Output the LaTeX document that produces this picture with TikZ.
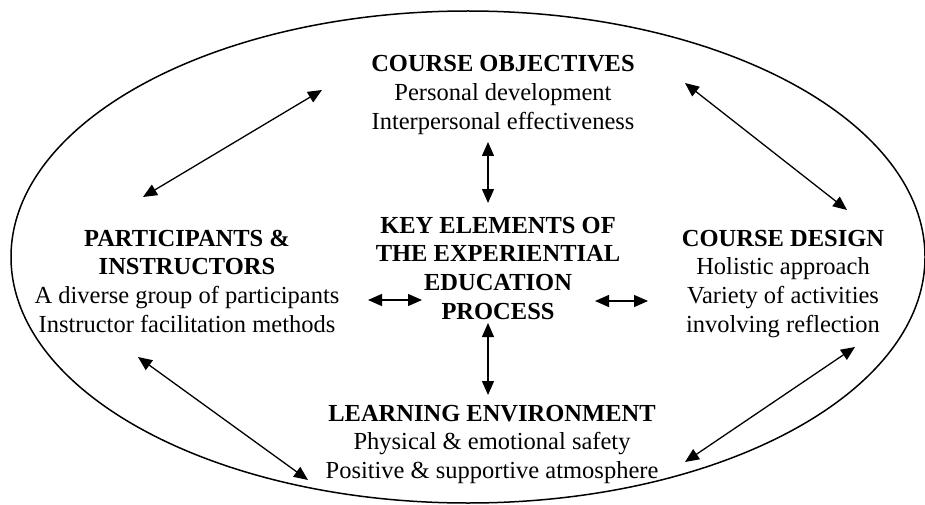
\documentclass[tikz,border=0pt]{standalone}
\usepackage{fontspec}
\setmainfont{Liberation Serif}
\usetikzlibrary{arrows.meta}
\begin{document}
\begin{tikzpicture}[x=1pt,y=-1pt,
  blk/.style={anchor=base, inner sep=0pt, font=\fontsize{24.5}{28.8}\selectfont},
  tip/.tip={Triangle[length=14pt,width=12pt]},
  link/.style={tip-tip, line width=1.3pt},
  frame/.style={line width=1.5pt}]
\useasboundingbox (0,0) rectangle (925,505);
\draw[frame] (468,257) ellipse [x radius=457pt, y radius=246pt];
% text blocks
\node[blk] (obj) at (503,72) {\begin{tabular}[t]{@{}c@{}}\textbf{COURSE OBJECTIVES}\\Personal development\\Interpersonal effectiveness\end{tabular}};
\node[blk] (key) at (498,233) {\begin{tabular}[t]{@{}c@{}}\textbf{KEY ELEMENTS OF}\\\textbf{THE EXPERIENTIAL}\\\textbf{EDUCATION}\\\textbf{PROCESS}\end{tabular}};
\node[blk] (par) at (187,246) {\begin{tabular}[t]{@{}c@{}}\textbf{PARTICIPANTS \&}\\\textbf{INSTRUCTORS}\\A diverse group of participants\\Instructor facilitation methods\end{tabular}};
\node[blk] (des) at (783,246) {\begin{tabular}[t]{@{}c@{}}\textbf{COURSE DESIGN}\\Holistic approach\\Variety of activities\\involving reflection\end{tabular}};
\node[blk] (env) at (492,421) {\begin{tabular}[t]{@{}c@{}}\textbf{LEARNING ENVIRONMENT}\\Physical \& emotional safety\\Positive \& supportive atmosphere\end{tabular}};
% connector end points
\coordinate (ulA) at (143,197); \coordinate (ulB) at (322,90);
\coordinate (urA) at (685,83);  \coordinate (urB) at (847,210);
\coordinate (llA) at (138,357); \coordinate (llB) at (308,480);
\coordinate (lrA) at (855,347); \coordinate (lrB) at (685,462);
\coordinate (vtA) at (488,142); \coordinate (vtB) at (488,203);
\coordinate (vbA) at (488,323); \coordinate (vbB) at (488,395);
\coordinate (hlA) at (368,300); \coordinate (hlB) at (422,300);
\coordinate (hrA) at (595,301); \coordinate (hrB) at (648,301);
\draw[link] (ulA) -- (ulB);
\draw[link] (urA) -- (urB);
\draw[link] (llA) -- (llB);
\draw[link] (lrA) -- (lrB);
\draw[link] (vtA) -- (vtB);
\draw[link] (vbA) -- (vbB);
\draw[link] (hlA) -- (hlB);
\draw[link] (hrA) -- (hrB);
\end{tikzpicture}
\end{document}
